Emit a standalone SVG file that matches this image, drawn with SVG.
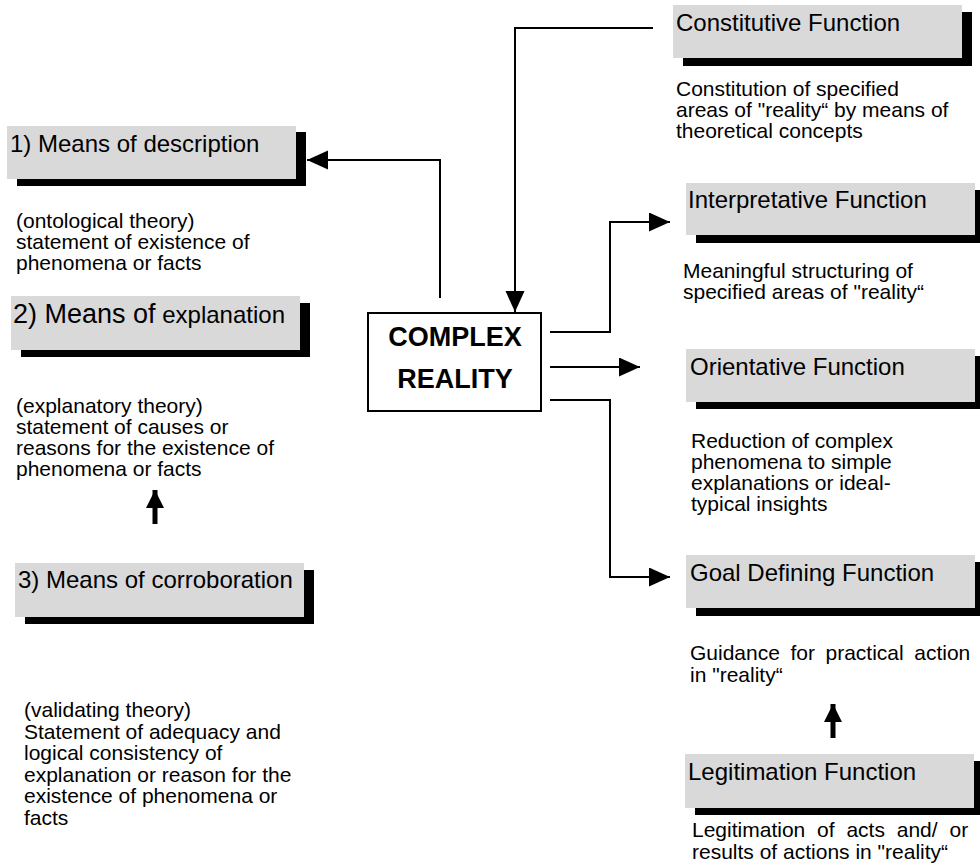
<svg xmlns="http://www.w3.org/2000/svg" width="980" height="867" viewBox="0 0 980 867">
  <style>
    text { font-family: "Liberation Sans", Arial, sans-serif; fill: #000; }
    .title { font-size: 24px; }
    .desc { font-size: 21px; }
    .core { font-size: 27px; font-weight: bold; text-anchor: middle; }
    .card { fill: #d9d9d9; }
    .shadow { fill: #000; }
    .link { fill: none; stroke: #000; stroke-width: 2; }
    .thick { fill: none; stroke: #000; stroke-width: 5; }
  </style>
  <defs>
    <marker id="head" markerUnits="userSpaceOnUse" markerWidth="22" markerHeight="20" refX="21" refY="9.5" orient="auto">
      <path d="M0,0 L21,9.5 L0,19 Z" fill="#000"/>
    </marker>
    <marker id="bighead" markerUnits="userSpaceOnUse" markerWidth="20" markerHeight="20" refX="18" refY="9" orient="auto">
      <path d="M0,0 L18,9 L0,18 Z" fill="#000"/>
    </marker>
  </defs>

  <!-- left column: means -->
  <g id="means-description">
    <rect class="shadow" x="17" y="132" width="289" height="54"/>
    <rect class="card" x="7" y="126" width="289" height="53"/>
    <text class="title" x="10" y="152">1) Means of description</text>
    <text class="desc" x="16" y="228">(ontological theory)</text>
    <text class="desc" x="16" y="249">statement of existence of</text>
    <text class="desc" x="16" y="270">phenomena or facts</text>
  </g>

  <g id="means-explanation">
    <rect class="shadow" x="21" y="303" width="289" height="54"/>
    <rect class="card" x="11" y="296" width="289" height="54"/>
    <text class="title" x="13" y="323"><tspan font-size="27">2) Means of</tspan> explanation</text>
    <text class="desc" x="16" y="413">(explanatory theory)</text>
    <text class="desc" x="16" y="434">statement of causes or</text>
    <text class="desc" x="16" y="455">reasons for the existence of</text>
    <text class="desc" x="16" y="476">phenomena or facts</text>
  </g>

  <g id="means-corroboration">
    <rect class="shadow" x="25" y="570" width="289" height="54"/>
    <rect class="card" x="15" y="563" width="289" height="54"/>
    <text class="title" x="18" y="588">3) Means of corroboration</text>
    <text class="desc" x="24" y="717">(validating theory)</text>
    <text class="desc" x="24" y="739">Statement of adequacy and</text>
    <text class="desc" x="24" y="760">logical consistency of</text>
    <text class="desc" x="24" y="782">explanation or reason for the</text>
    <text class="desc" x="24" y="803">existence of phenomena or</text>
    <text class="desc" x="24" y="825">facts</text>
  </g>

  <!-- centre -->
  <g id="complex-reality">
    <rect x="368" y="313" width="173" height="98" fill="#fff" stroke="#000" stroke-width="2"/>
    <text class="core" x="455" y="346">COMPLEX</text>
    <text class="core" x="455" y="388">REALITY</text>
  </g>

  <!-- right column: functions -->
  <g id="constitutive">
    <rect class="shadow" x="683" y="12" width="289" height="54"/>
    <rect class="card" x="673" y="5" width="289" height="53"/>
    <text class="title" x="676" y="31">Constitutive Function</text>
    <text class="desc" x="676" y="96">Constitution of specified</text>
    <text class="desc" x="676" y="117">areas of "reality“ by means of</text>
    <text class="desc" x="676" y="138">theoretical concepts</text>
  </g>

  <g id="interpretative">
    <rect class="shadow" x="696" y="190" width="289" height="53"/>
    <rect class="card" x="686" y="183" width="289" height="52"/>
    <text class="title" x="688" y="208">Interpretative Function</text>
    <text class="desc" x="683" y="278">Meaningful structuring of</text>
    <text class="desc" x="683" y="299">specified areas of "reality“</text>
  </g>

  <g id="orientative">
    <rect class="shadow" x="696" y="356" width="289" height="53"/>
    <rect class="card" x="686" y="349" width="289" height="53"/>
    <text class="title" x="690" y="375">Orientative Function</text>
    <text class="desc" x="691" y="448">Reduction of complex</text>
    <text class="desc" x="691" y="469">phenomena to simple</text>
    <text class="desc" x="691" y="490">explanations or ideal-</text>
    <text class="desc" x="691" y="511">typical insights</text>
  </g>

  <g id="goal-defining">
    <rect class="shadow" x="696" y="562" width="289" height="54"/>
    <rect class="card" x="686" y="555" width="289" height="53"/>
    <text class="title" x="690" y="581">Goal Defining Function</text>
    <text class="desc" x="690" y="660" word-spacing="4.7">Guidance for practical action</text>
    <text class="desc" x="690" y="682">in "reality“</text>
  </g>

  <g id="legitimation">
    <rect class="shadow" x="695" y="761" width="289" height="54"/>
    <rect class="card" x="685" y="754" width="289" height="54"/>
    <text class="title" x="688" y="780">Legitimation Function</text>
    <text class="desc" x="692" y="837" word-spacing="6">Legitimation of acts and/ or</text>
    <text class="desc" x="692" y="859">results of actions in "reality“</text>
  </g>

  <!-- connectors -->
  <g id="connectors">
    <path class="link" d="M440,298 V160 H307" marker-end="url(#head)"/>
    <path class="link" d="M653,28 H515 V312" marker-end="url(#head)"/>
    <path class="link" d="M550,332 H610 V222 H670" marker-end="url(#head)"/>
    <path class="link" d="M550,367 H640" marker-end="url(#head)"/>
    <path class="link" d="M550,400 H610 V577 H670" marker-end="url(#head)"/>
    <path class="thick" d="M155,524 V490" marker-end="url(#bighead)"/>
    <path class="thick" d="M833,738 V704" marker-end="url(#bighead)"/>
  </g>
</svg>
